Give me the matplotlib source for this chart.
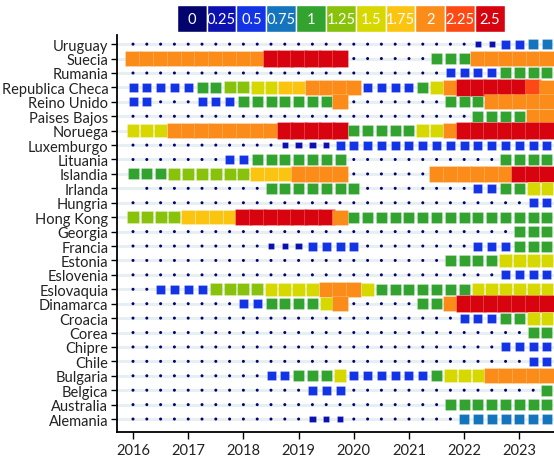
import numpy as np
import pandas as pd
from matplotlib import pyplot as plt

plt.rcParams['font.family'] = ['Lato', 'DejaVu Sans']

nan = np.nan
paises = ['Uruguay', 'Suecia', 'Rumania', 'Republica Checa', 'Reino Unido', 'Paises Bajos',
          'Noruega', 'Luxemburgo', 'Lituania', 'Islandia', 'Irlanda', 'Hungria', 'Hong Kong',
          'Georgia', 'Francia', 'Estonia', 'Eslovenia', 'Eslovaquia', 'Dinamarca', 'Croacia',
          'Corea', 'Chipre', 'Chile', 'Bulgaria', 'Belgica', 'Australia', 'Alemania']

# trimestres 2016T1 .. 2023T3
trimestres = np.arange(2016, 2023.51, 0.25)

#             2016              2017              2018                  2019                  2020            2021            2022                  2023
uruguay   = [0, 0, 0, 0,        0, 0, 0, 0,       0, 0, 0, 0,           0, 0, 0, 0,           0, 0, 0, 0,     0, 0, 0, 0,     0, .25, .25, .5,      .5, .75, .75]
suecia    = [2, 2, 2, 2,        2, 2, 2, 2,       2, 2, 2.5, 2.5,       2.5, 2.5, 2.5, 2.5,   0, 0, 0, 0,     0, 0, 1, 1,     1, 2, 2, 2,           2, 2, 2]
rumania   = [0, 0, 0, 0,        0, 0, 0, 0,       0, 0, 0, 0,           0, 0, 0, 0,           0, 0, 0, 0,     0, 0, 0, .5,    .5, .5, .5, 1,        1, 1, 1]
checa     = [.5, .5, .5, .5,    .5, 1, 1, 1.25,   1.25, 1.5, 1.5, 1.75, 1.75, 2, 2, 2,        2, .5, .5, .5,  .5, 1, 1.5, 2,  2.5, 2.5, 2.5, 2.5,   2.5, 2.25, 2]
reino     = [.5, .5, 0, 0,      0, .5, .5, .5,    1, 1, 1, 1,           1, 1, 1, 2,           0, 0, 0, 0,     0, 0, 0, 1,     1, 1, 2, 2,           2, 2, 2]
bajos     = [0, 0, 0, 0,        0, 0, 0, 0,       0, 0, 0, 0,           0, 0, 0, 0,           0, 0, 0, 0,     0, 0, 0, 0,     0, 1, 1, 1,           1, 2, 2]
noruega   = [1.5, 1.5, 1.5, 2,  2, 2, 2, 2,       2, 2, 2, 2.5,         2.5, 2.5, 2.5, 2.5,   1, 1, 1, 1,     1, 1.5, 1.5, 2, 2.5, 2.5, 2.5, 2.5,   2.5, 2.5, 2.5]
luxemb    = [0, 0, 0, 0,        0, 0, 0, 0,       0, 0, 0, .25,         .25, .25, .25, .5,    .5, .5, .5, .5, .5, .5, .5, .5, .5, .5, .5, .5,       .5, .5, .5]
lituania  = [0, 0, 0, 0,        0, 0, 0, .5,      .5, 1, 1, 1,          1, 1, 1, 1,           0, 0, 0, 0,     0, 0, 0, 0,     0, 0, 0, 1,           1, 1, 1]
islandia  = [1, 1, 1, 1.25,     1.25, 1.25, 1.25, 1.25, 1.25, 1.75, 1.75, 1.75, 2, 2, 2, 2,   0, 0, 0, 0,     0, 0, 2, 2,     2, 2, 2, 2,           2.5, 2.5, 2.5]
irlanda   = [nan, 0, 0, 0,      0, 0, 0, 0,       0, 0, 1, 1,           1, 1, 1, 1,           1, 0, 0, 0,     0, 0, 0, 0,     0, .5, .5, 1,         1, 1.5, 1.5]
hungria   = [0, 0, 0, 0,        0, 0, 0, 0,       0, 0, 0, 0,           0, 0, 0, 0,           0, 0, 0, 0,     0, 0, 0, 0,     0, 0, 0, 0,           0, .5, .5]
hongkong  = [1.25, 1.25, 1.25, 1.25, 1.75, 1.75, 1.75, 1.75, 2.5, 2.5, 2.5, 2.5, 2.5, 2.5, 2.5, 2, 1, 1, 1, 1,     1, 1, 1, 1,     1, 1, 1, 1,           1, 1, 1]
georgia   = [0, 0, 0, 0,        0, 0, 0, 0,       0, 0, 0, 0,           0, 0, 0, 0,           0, 0, 0, 0,     0, 0, 0, 0,     0, 0, 0, 0,           1, 1, 1]
francia   = [0, 0, 0, 0,        0, 0, 0, 0,       0, 0, .25, .25,       .25, .5, .5, .5,      .5, 0, 0, 0,    0, 0, 0, 0,     0, .5, .5, .5,        1, 1, 1]
estonia   = [0, 0, 0, 0,        0, 0, 0, 0,       0, 0, 0, 0,           0, 0, 0, 0,           0, 0, 0, 0,     0, 0, 0, 1,     1, 1, 1, 1.5,         1.5, 1.5, 1.5]
eslovenia = [0, 0, 0, 0,        0, 0, 0, 0,       0, 0, 0, 0,           0, 0, 0, 0,           0, 0, 0, 0,     0, 0, 0, 0,     0, 0, 0, .5,          .5, .5, .5]
eslovaq   = [0, 0, .5, .5,      .5, .5, 1.25, 1.25, 1.25, 1.25, 1.5, 1.5, 1.5, 1.5, 2, 2,     2, 1.5, 1, 1,   1, 1, 1, 1,     1, 1.5, 1.5, 1.5,     1.5, 1.5, 1.5]
dinamarca = [0, 0, 0, 0,        0, 0, 0, 0,       .5, .5, 1, 1,         1, 1, 1.5, 2,         0, 0, 0, 0,     0, 1, 1, 2,     2.5, 2.5, 2.5, 2.5,   2.5, 2.5, 2.5]
croacia   = [0, 0, 0, 0,        0, 0, 0, 0,       0, 0, 0, 0,           0, 0, 0, 0,           0, 0, 0, 0,     0, 0, 0, 0,     .5, .5, .5, 1,        1, 1.5, 1.5]
corea     = [0, 0, 0, 0,        0, 0, 0, 0,       0, 0, 0, 0,           0, 0, 0, 0,           0, 0, 0, 0,     0, 0, 0, 0,     0, 0, 0, 0,           0, 1, 1]
chipre    = [0, 0, 0, 0,        0, 0, 0, 0,       0, 0, 0, 0,           0, 0, 0, 0,           0, 0, 0, 0,     0, 0, 0, 0,     0, 0, 0, .5,          .5, .5, .5]
chile     = [0, 0, 0, 0,        0, 0, 0, 0,       0, 0, 0, 0,           0, 0, 0, 0,           0, 0, 0, 0,     0, 0, 0, 0,     0, 0, 0, 0,           0, .5, .5]
bulgaria  = [0, 0, 0, 0,        0, 0, 0, 0,       0, 0, .5, .5,         1, 1, 1, 1.5,         .5, .5, .5, .5, .5, .5, 1, 1.5, 1.5, 1.5, 2, 2,       2, 2, 2]
belgica   = [0, 0, 0, 0,        0, 0, 0, 0,       0, 0, 0, 0,           0, .5, .5, .5,        0, 0, 0, 0,     0, 0, 0, 0,     0, 0, 0, 0,           0, 0, 1]
australia = [0, 0, 0, 0,        0, 0, 0, 0,       0, 0, 0, 0,           0, 0, 0, 0,           0, 0, 0, 0,     0, 0, 0, 1,     1, 1, 1, 1,           1, 1, 1]
alemania  = [0, 0, 0, 0,        0, 0, 0, 0,       0, 0, 0, 0,           0, .25, .25, .25,     0, 0, 0, 0,     0, 0, 0, 0,     .75, .75, .75, .75,   .75, .75, .75]

series = [uruguay, suecia, rumania, checa, reino, bajos, noruega, luxemb, lituania, islandia,
          irlanda, hungria, hongkong, georgia, francia, estonia, eslovenia, eslovaq, dinamarca,
          croacia, corea, chipre, chile, bulgaria, belgica, australia, alemania]

niveles = [0, 0.25, 0.5, 0.75, 1, 1.25, 1.5, 1.75, 2, 2.25, 2.5]
colores = ['#03036e', '#0c10b0', '#1234e6', '#1474bc', '#32a32e', '#88c20a', '#d6d800',
           '#fbc410', '#fb8c1a', '#fd4a14', '#d7030f']
lados_px = [3, 6.5, 9, 10, 11, 12, 12.8, 13.5, 15.2, 15.8, 16.6]

filas = []
for k, (pais, vals) in enumerate(zip(paises, series)):
    for t, v in zip(trimestres, vals):
        if not np.isnan(v):
            filas.append((pais, len(paises) - 1 - k, t, v))
df = pd.DataFrame(filas, columns=['pais', 'y', 'fecha', 'valor'])
idx = df['valor'].map(lambda v: niveles.index(v))
df['color'] = [colores[i] for i in idx]
df['s'] = [(lados_px[i] * 0.72) ** 2 for i in idx]

fig = plt.figure(figsize=(5.54, 4.60), dpi=100)
ax = fig.add_axes([0.2107, 0.0593, 0.7893, 0.862])

ceros = df[df['valor'] == 0]
ax.scatter(ceros['fecha'], ceros['y'], s=ceros['s'], c=ceros['color'], marker='o',
           linewidths=0, zorder=3)
resto = df[df['valor'] > 0].sort_values(['y', 'fecha'], ascending=[False, True])
ax.scatter(resto['fecha'], resto['y'], s=resto['s'], c=resto['color'], marker='s',
           edgecolors=(1, 1, 1, 0.3), linewidths=0.5, zorder=4)

ax.set_xlim(2015.705, 2023.627)
ax.set_ylim(-0.88, len(paises) - 0.38)
ax.set_yticks(range(len(paises)))
ax.set_yticklabels(paises[::-1], fontsize=10.5, color='#222222')
ax.set_xticks(range(2016, 2024))
ax.set_xticklabels([str(a) for a in range(2016, 2024)], fontsize=10.5, color='#222222')
ax.tick_params(axis='y', length=4, width=1, pad=2)
ax.tick_params(axis='x', length=5, width=1, pad=3)
ax.grid(axis='y', color='#e8eff3', linewidth=2.2, zorder=0)
ax.set_axisbelow(True)
for s in ['top', 'right']:
    ax.spines[s].set_visible(False)
for s in ['left', 'bottom']:
    ax.spines[s].set_linewidth(1.3)

# leyenda de colores
lax = fig.add_axes([0.319, 0.928, 0.5926, 0.0587])
lax.bar(range(len(niveles)), [1] * len(niveles), width=1, color=colores,
        edgecolor='white', linewidth=1)
for i, n in enumerate(niveles):
    lax.text(i, 0.5, f'{n:g}', color='white', ha='center', va='center', fontsize=10.5)
lax.set_xlim(-0.5, len(niveles) - 0.5)
lax.set_ylim(0, 1)
lax.axis('off')

fig.savefig('out.png', dpi=100)
